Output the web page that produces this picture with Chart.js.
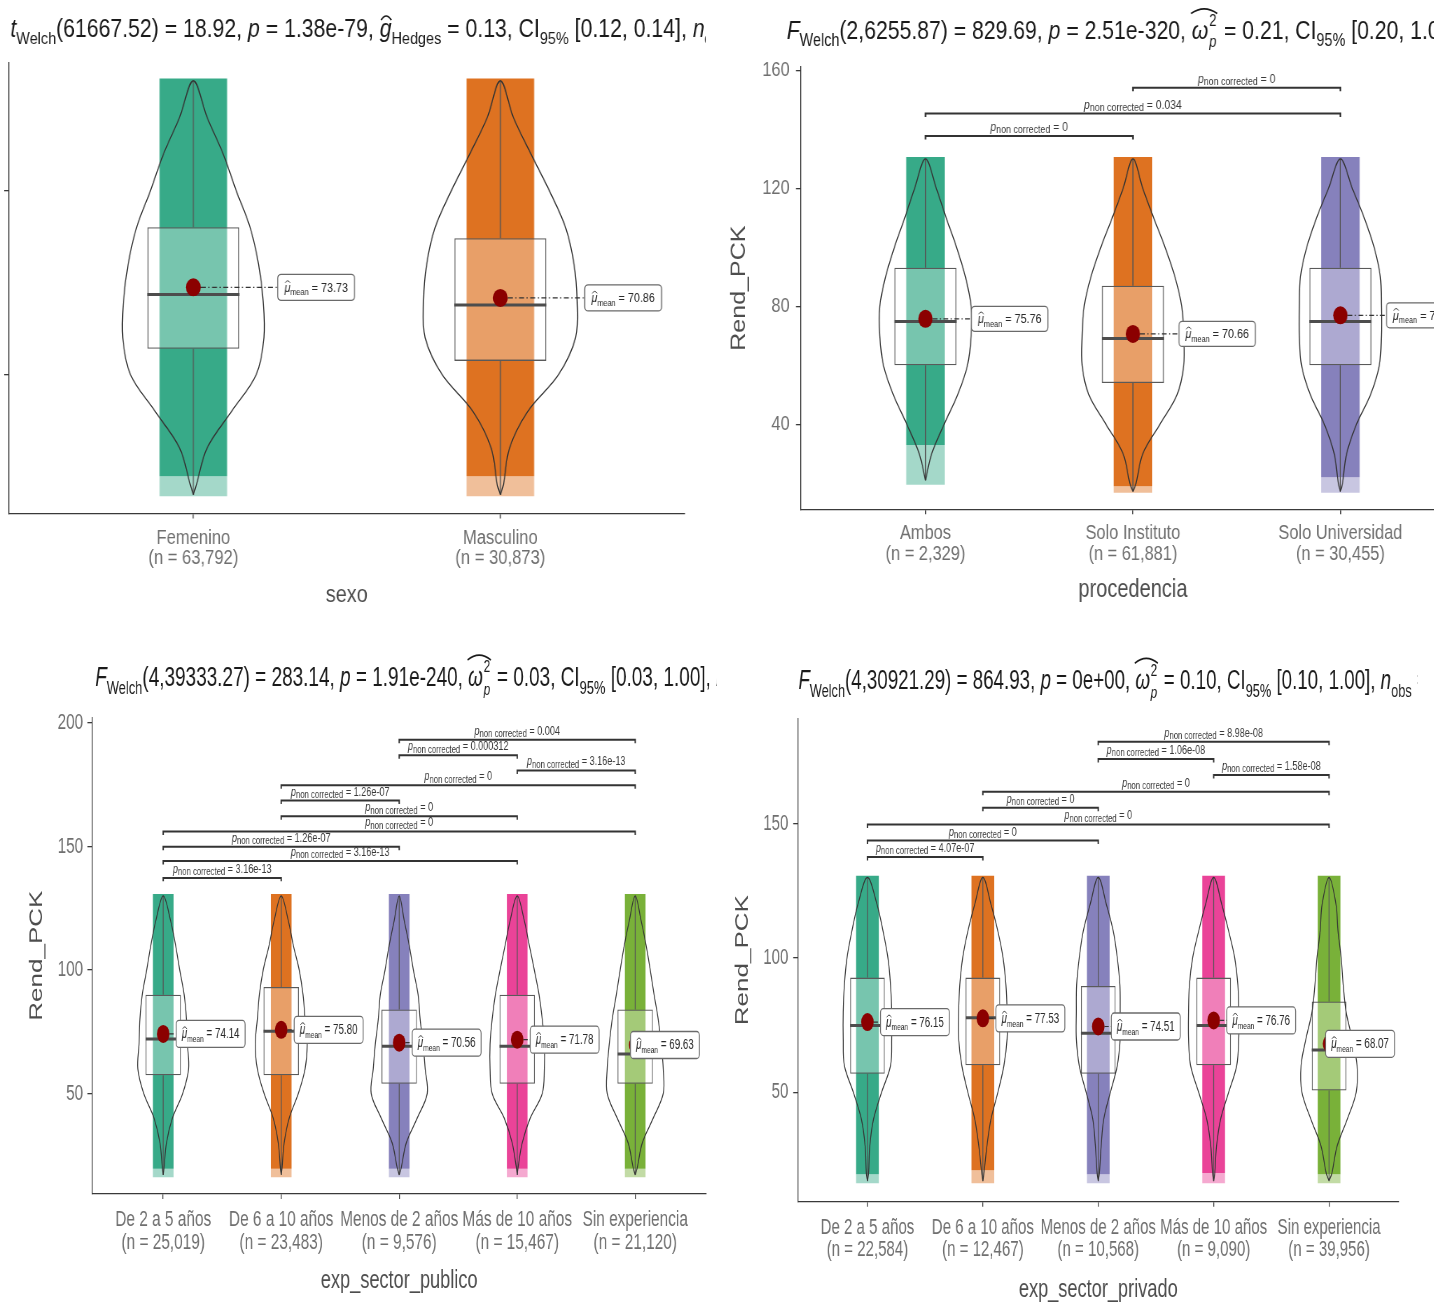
<!DOCTYPE html>
<html lang="es">
<head>
<meta charset="utf-8">
<title>Rend_PCK por grupos</title>
<script src="https://cdn.jsdelivr.net/npm/chart.js@4.4.1/dist/chart.umd.min.js"></script>
<style>
html, body { margin:0; padding:0; background:#ffffff; width:1434px; height:1306px; overflow:hidden; position:relative; }
.panel { position:absolute; overflow:hidden; }
</style>
</head>
<body>
<script>
// ================= DATA =================
const violinLevels = [20, 30, 40, 50, 60, 70, 80, 90, 100, 110, 120];

// --- Panel 1: sexo
const sexoCategories = ['Femenino', 'Masculino'];
const sexoCounts = ['63,792', '30,873'];
const sexoMean = [73.73, 70.86];
const sexoMedian = [71.8, 68.9];
const sexoQ1 = [57.0, 53.7];
const sexoQ3 = [90.1, 87.1];
const sexoMin = [17.2, 17.2];
const sexoMax = [130, 130];
const sexoPointLow = [16.8, 16.8];
const sexoPointDense = [22.3, 22.3];
const sexoPointHigh = [130.6, 130.6];
const sexoViolin = [
  [0.04, 0.18, 0.50, 0.82, 0.92, 0.91, 0.85, 0.74, 0.56, 0.39, 0.18],
  [0.04, 0.12, 0.36, 0.76, 0.98, 1.00, 0.96, 0.85, 0.64, 0.40, 0.17]
];
const sexoYTicks = [50, 100];
const sexoPairs = [];
const sexoPairY = [];
const sexoPairP = [];
const sexoTitle = [{t:'t',it:true},{t:'Welch',sub:true},{t:'(61667.52) = 18.92, '},{t:'p',it:true},{t:' = 1.38e-79, '},{t:'g',it:true,hat:true},{t:'Hedges',sub:true},{t:' = 0.13, CI'},{t:'95%',sub:true},{t:' [0.12, 0.14], '},{t:'n',it:true},{t:'obs',sub:true},{t:' = 94,665'}];

// --- Panel 2: procedencia
const procCategories = ['Ambos', 'Solo Instituto', 'Solo Universidad'];
const procCounts = ['2,329', '61,881', '30,455'];
const procMean = [75.76, 70.66, 76.97];
const procMedian = [74.9, 69.1, 74.9];
const procQ1 = [60.0, 54.0, 60.0];
const procQ3 = [93.1, 87.0, 93.1];
const procMin = [21, 17.2, 17.2];
const procMax = [130, 130, 130];
const procPointLow = [19.5, 16.8, 16.8];
const procPointDense = [33, 19, 22];
const procPointHigh = [130.7, 130.7, 130.7];
const procViolin = [
  [0.04, 0.12, 0.36, 0.62, 0.81, 0.88, 0.88, 0.77, 0.60, 0.40, 0.21],
  [0.06, 0.19, 0.52, 0.85, 0.98, 0.98, 0.94, 0.81, 0.62, 0.40, 0.19],
  [0.04, 0.12, 0.31, 0.58, 0.75, 0.79, 0.79, 0.77, 0.65, 0.46, 0.23]
];
const procYTicks = [40, 80, 120, 160];
const procPairs = [[0, 1], [0, 2], [1, 2]];
const procPairY = [137.8, 145.4, 154.2];
const procPairP = ['0', '0.034', '0'];
const procTitle = [{t:'F',it:true},{t:'Welch',sub:true},{t:'(2,6255.87) = 829.69, '},{t:'p',it:true},{t:' = 2.51e-320, '},{omega:true},{t:' = 0.21, CI'},{t:'95%',sub:true},{t:' [0.20, 1.00], '},{t:'n',it:true},{t:'obs',sub:true},{t:' = 94,665'}];

// --- Panel 3: exp_sector_publico
const pubCategories = ['De 2 a 5 años', 'De 6 a 10 años', 'Menos de 2 años', 'Más de 10 años', 'Sin experiencia'];
const pubCounts = ['25,019', '23,483', '9,576', '15,467', '21,120'];
const pubMean = [74.14, 75.80, 70.56, 71.78, 69.63];
const pubMedian = [72.1, 75.2, 69.1, 69.1, 66.0];
const pubQ1 = [57.4, 57.4, 53.9, 53.9, 53.9];
const pubQ3 = [90.0, 93.1, 84.0, 90.0, 84.0];
const pubMin = [17, 17, 17, 17, 17];
const pubMax = [130, 130, 130, 130, 130];
const pubPointLow = [16.1, 16.1, 16.1, 16.1, 16.1];
const pubPointDense = [19.5, 19.5, 19.5, 19.5, 19.5];
const pubPointHigh = [130.8, 130.8, 130.8, 130.8, 130.8];
const pubViolin = [
  [0.03, 0.11, 0.31, 0.66, 0.86, 0.82, 0.79, 0.71, 0.56, 0.42, 0.25],
  [0.03, 0.10, 0.27, 0.58, 0.81, 0.88, 0.81, 0.74, 0.61, 0.41, 0.24],
  [0.07, 0.24, 0.61, 0.95, 0.88, 0.81, 0.71, 0.64, 0.48, 0.34, 0.17],
  [0.03, 0.17, 0.44, 0.85, 0.92, 0.92, 0.85, 0.74, 0.58, 0.41, 0.24],
  [0.07, 0.24, 0.61, 0.95, 0.95, 0.88, 0.78, 0.64, 0.51, 0.37, 0.20]
];
const pubYTicks = [50, 100, 150, 200];
const pubPairs = [[0, 1], [0, 3], [0, 2], [0, 4], [1, 3], [1, 2], [1, 4], [3, 4], [2, 3], [2, 4]];
const pubPairY = [137.3, 144.1, 149.9, 156.1, 162.3, 168.6, 174.8, 180.8, 187.0, 193.2];
const pubPairP = ['3.16e-13', '3.16e-13', '1.26e-07', '0', '0', '1.26e-07', '0', '3.16e-13', '0.000312', '0.004'];
const pubTitle = [{t:'F',it:true},{t:'Welch',sub:true},{t:'(4,39333.27) = 283.14, '},{t:'p',it:true},{t:' = 1.91e-240, '},{omega:true},{t:' = 0.03, CI'},{t:'95%',sub:true},{t:' [0.03, 1.00], '},{t:'n',it:true},{t:'obs',sub:true},{t:' = 94,665'}];

// --- Panel 4: exp_sector_privado
const privCategories = ['De 2 a 5 años', 'De 6 a 10 años', 'Menos de 2 años', 'Más de 10 años', 'Sin experiencia'];
const privCounts = ['22,584', '12,467', '10,568', '9,090', '39,956'];
const privMean = [76.15, 77.53, 74.51, 76.76, 68.07];
const privMedian = [74.9, 77.8, 72.0, 74.9, 65.8];
const privQ1 = [56.9, 60.1, 56.9, 60.1, 50.7];
const privQ3 = [92.7, 92.7, 89.6, 92.7, 83.8];
const privMin = [17, 17, 17, 17, 17];
const privMax = [130, 130, 130, 130, 130];
const privPointLow = [16.2, 16.2, 16.2, 16.2, 16.2];
const privPointDense = [19.5, 21, 19.5, 20, 19.5];
const privPointHigh = [130.6, 130.6, 130.6, 130.6, 130.6];
const privViolin = [
  [0.04, 0.08, 0.21, 0.49, 0.80, 0.84, 0.84, 0.80, 0.71, 0.54, 0.33],
  [0.04, 0.14, 0.28, 0.52, 0.73, 0.84, 0.84, 0.80, 0.70, 0.52, 0.28],
  [0.04, 0.10, 0.19, 0.42, 0.66, 0.76, 0.76, 0.75, 0.66, 0.52, 0.28],
  [0.04, 0.10, 0.24, 0.52, 0.80, 0.87, 0.87, 0.84, 0.73, 0.52, 0.28],
  [0.10, 0.28, 0.63, 0.94, 0.97, 0.80, 0.59, 0.49, 0.42, 0.31, 0.24]
];
const privYTicks = [50, 100, 150];
const privPairs = [[0, 1], [0, 2], [0, 4], [1, 2], [1, 4], [3, 4], [2, 3], [2, 4]];
const privPairY = [137.6, 143.7, 149.7, 155.9, 161.9, 168.1, 174.1, 180.5];
const privPairP = ['4.07e-07', '0', '0', '0', '0', '1.58e-08', '1.06e-08', '8.98e-08'];
const privTitle = [{t:'F',it:true},{t:'Welch',sub:true},{t:'(4,30921.29) = 864.93, '},{t:'p',it:true},{t:' = 0e+00, '},{omega:true},{t:' = 0.10, CI'},{t:'95%',sub:true},{t:' [0.10, 1.00], '},{t:'n',it:true},{t:'obs',sub:true},{t:' = 94,665'}];

// ================= STYLE / LAYOUT =================
const FONT = "'Liberation Sans', Arial, Helvetica, sans-serif";
const dark2 = ['#1B9E77', '#D95F02', '#7570B3', '#E7298A', '#66A61E'];
Chart.defaults.font.family = FONT;

function rgba(hex, a) {
  const n = parseInt(hex.slice(1), 16);
  return `rgba(${(n >> 16) & 255},${(n >> 8) & 255},${n & 255},${a})`;
}

function rich(ctx, segs, x, y, size, color, draw) {
  let cx = x;
  ctx.textAlign = 'left';
  ctx.textBaseline = 'alphabetic';
  if (color) { ctx.fillStyle = color; ctx.strokeStyle = color; }
  for (const s of segs) {
    if (s.omega) {
      ctx.font = `italic ${size}px ${FONT}`;
      const w0 = ctx.measureText('ω').width;
      const ss = size * 0.62;
      ctx.font = `${ss}px ${FONT}`;
      const w2 = ctx.measureText('2').width;
      ctx.font = `italic ${ss}px ${FONT}`;
      const wp = ctx.measureText('p').width;
      if (draw) {
        ctx.font = `italic ${size}px ${FONT}`;
        ctx.fillText('ω', cx, y);
        ctx.font = `${ss}px ${FONT}`;
        ctx.fillText('2', cx + w0 + 1, y - size * 0.5);
        ctx.font = `italic ${ss}px ${FONT}`;
        ctx.fillText('p', cx + w0 + 1, y + size * 0.32);
        const hx0 = cx - 1, hx1 = cx + w0 + 2 + w2, hy = y - size * 1.08;
        ctx.beginPath();
        ctx.lineWidth = Math.max(1, size / 16);
        ctx.moveTo(hx0, hy + size * 0.12);
        ctx.quadraticCurveTo((hx0 + hx1) / 2, hy - size * 0.24, hx1, hy + size * 0.12);
        ctx.stroke();
      }
      cx += w0 + 2 + Math.max(w2, wp) + 1;
      continue;
    }
    const sz = s.sub ? size * (s.subScale || 0.68) : size;
    ctx.font = `${s.it ? 'italic ' : ''}${sz}px ${FONT}`;
    const w = ctx.measureText(s.t).width;
    const dy = s.sub ? size * (s.subDy !== undefined ? s.subDy : 0.28) : 0;
    if (draw) {
      ctx.fillText(s.t, cx, y + dy);
      if (s.hat) {
        const hx0 = cx + w * 0.12, hx1 = cx + w * 0.98, hy = y - sz * 0.66;
        ctx.beginPath();
        ctx.lineWidth = Math.max(0.8, sz / 15);
        ctx.moveTo(hx0, hy);
        ctx.quadraticCurveTo((hx0 + hx1) / 2, hy - sz * 0.32, hx1, hy);
        ctx.stroke();
      }
    }
    cx += w;
  }
  return cx - x;
}

function violinPath(i, dens, low, high, scale) {
  const pts = [{x: i, y: low}];
  violinLevels.forEach((lv, k) => { if (lv > low && lv < high) pts.push({x: i - dens[k] * scale, y: lv}); });
  pts.push({x: i, y: high});
  for (let k = violinLevels.length - 1; k >= 0; k--) {
    const lv = violinLevels[k];
    if (lv > low && lv < high) pts.push({x: i + dens[k] * scale, y: lv});
  }
  pts.push({x: i, y: low});
  return pts;
}

function buildDatasets(d, cfg) {
  const ds = [];
  const n = d.categories.length;
  const idx = [...Array(n).keys()];
  const barCommon = {type: 'bar', grouped: false, categoryPercentage: 1, borderWidth: 0};
  ds.push(Object.assign({}, barCommon, {
    order: 20, barPercentage: cfg.stripW,
    data: idx.map(i => ({x: i, y: [d.pointLow[i], d.pointDense[i]]})),
    backgroundColor: d.colors.map(c => rgba(c, 0.4))
  }));
  ds.push(Object.assign({}, barCommon, {
    order: 19, barPercentage: cfg.stripW,
    data: idx.map(i => ({x: i, y: [d.pointDense[i], d.pointHigh[i]]})),
    backgroundColor: d.colors.map(c => rgba(c, 0.88))
  }));
  ds.push(Object.assign({}, barCommon, {
    order: 18, barPercentage: cfg.boxW,
    data: idx.map(i => ({x: i, y: [d.q1[i], d.q3[i]]})),
    backgroundColor: 'rgba(255,255,255,0.32)', borderColor: '#5a5a5a', borderWidth: 1.3, borderSkipped: false
  }));
  const lineCommon = {type: 'line', pointRadius: 0, pointHoverRadius: 0, fill: false, spanGaps: false};
  const wh = [];
  idx.forEach(i => { wh.push({x: i, y: d.min[i]}, {x: i, y: d.q1[i]}, {x: i, y: null}, {x: i, y: d.q3[i]}, {x: i, y: d.max[i]}, {x: i, y: null}); });
  ds.push(Object.assign({}, lineCommon, {order: 17, data: wh, borderColor: '#555555', borderWidth: 1.3, tension: 0}));
  idx.forEach(i => {
    ds.push(Object.assign({}, lineCommon, {
      order: 16, data: violinPath(i, d.violin[i], d.min[i], d.max[i], cfg.violinScale),
      borderColor: '#333333', borderWidth: 1.3, tension: 0.35
    }));
  });
  const med = [];
  idx.forEach(i => { med.push({x: i - cfg.boxW / 2, y: d.median[i]}, {x: i + cfg.boxW / 2, y: d.median[i]}, {x: i, y: null}); });
  ds.push(Object.assign({}, lineCommon, {order: 15, data: med, borderColor: '#4d4d4d', borderWidth: 3, tension: 0}));
  ds.push({type: 'scatter', order: 14, data: idx.map(i => ({x: i, y: d.mean[i]})),
    pointRadius: cfg.dotR, pointHoverRadius: cfg.dotR, backgroundColor: '#8B0000', borderColor: '#8B0000', borderWidth: 0});
  if (d.pairs.length) {
    const br = [];
    const tk = cfg.bracketTick;
    d.pairs.forEach((p, k) => {
      const h = d.pairY[k];
      br.push({x: p[0], y: h - tk}, {x: p[0], y: h}, {x: p[1], y: h}, {x: p[1], y: h - tk}, {x: p[1], y: null});
    });
    ds.push(Object.assign({}, lineCommon, {order: 13, data: br, borderColor: '#333333', borderWidth: 2, tension: 0}));
  }
  return ds;
}

function makePanel(d, cfg) {
  const [bx0, by0, bx1, by1] = cfg.box;
  const sx = cfg.sx;
  const wrap = document.createElement('div');
  wrap.className = 'panel';
  Object.assign(wrap.style, {left: bx0 + 'px', top: by0 + 'px', width: (bx1 - bx0) + 'px', height: (by1 - by0) + 'px'});
  const inner = document.createElement('div');
  Object.assign(inner.style, {position: 'absolute', left: '0px', top: '0px', width: ((bx1 - bx0) / sx) + 'px',
    height: (by1 - by0) + 'px', transform: `scaleX(${sx})`, transformOrigin: '0 0'});
  wrap.appendChild(inner);
  document.body.appendChild(wrap);

  const toX = xp => (xp - bx0) / sx;
  const YAXW = 150, XAXH = 100, PADL = 20, PADR = 40;
  const L = toX(cfg.area[0]), R = toX(cfg.area[2]);
  const T = cfg.area[1] - by0, B = cfg.area[3] - by0;
  const canX = L - YAXW - PADL;
  const canW = Math.ceil(R + PADR - canX);
  const canH = by1 - by0;
  const canvas = document.createElement('canvas');
  canvas.width = canW; canvas.height = canH;
  Object.assign(canvas.style, {position: 'absolute', left: canX + 'px', top: '0px', width: canW + 'px', height: canH + 'px'});
  inner.appendChild(canvas);

  const Lc = L - canX, Rc = R - canX;
  const tlY = 5 / sx, tlX = 5;
  const yLabPad = (Lc - tlY) - (toX(cfg.yLabelRight) - canX);
  const yTitlePad = (toX(cfg.yTitleX) - canX) - PADL - cfg.yTitleSize / 2;
  const xLabPad = cfg.tickY - cfg.area[3] - tlX - cfg.tickLH / 2;
  const xTitlePad = (B + XAXH) - (cfg.xTitleY - by0) - cfg.xTitleSize / 2;
  const titleXc = toX(cfg.titleX) - canX;
  const titleYc = cfg.titleBase - by0;
  const n = d.categories.length;

  const extras = {
    id: 'extras',
    afterDraw(chart) {
      const ctx = chart.ctx, xs = chart.scales.x, ys = chart.scales.y;
      ctx.save();
      rich(ctx, d.title, titleXc, titleYc, cfg.titleSize, '#1a1a1a', true);
      d.pairs.forEach((p, k) => {
        const cx = xs.getPixelForValue((p[0] + p[1]) / 2);
        const y = ys.getPixelForValue(d.pairY[k]) - 5;
        const segs = [{t: 'p', it: true}, {t: 'non corrected', sub: true, subScale: 0.85, subDy: 0.18}, {t: ' = ' + d.pairP[k]}];
        const w = rich(ctx, segs, 0, 0, cfg.bracketSize, null, false);
        rich(ctx, segs, cx - w / 2, y, cfg.bracketSize, '#3a3a3a', true);
      });
      d.mean.forEach((m, i) => {
        const px = xs.getPixelForValue(i), py = ys.getPixelForValue(m);
        const bx = xs.getPixelForValue(i + cfg.labelOffset[i]);
        const segs = [{t: 'μ', it: true, hat: true}, {t: 'mean', sub: true}, {t: ' = ' + m.toFixed(2)}];
        const tw = rich(ctx, segs, 0, 0, cfg.labelSize, null, false);
        const bw = tw + 2 * cfg.labelPad, bh = cfg.labelH;
        if (bx > px + cfg.dotR) {
          ctx.save();
          ctx.strokeStyle = '#333333'; ctx.lineWidth = 1.2;
          ctx.setLineDash([6, 3, 1.5, 3]);
          ctx.beginPath(); ctx.moveTo(px + cfg.dotR, py); ctx.lineTo(bx, py); ctx.stroke();
          ctx.restore();
        }
        ctx.beginPath();
        ctx.roundRect(bx, py - bh / 2, bw, bh, 4);
        ctx.fillStyle = '#ffffff'; ctx.fill();
        ctx.strokeStyle = '#6a6a6a'; ctx.lineWidth = 1.3; ctx.stroke();
        rich(ctx, segs, bx + cfg.labelPad, py + cfg.labelSize * 0.32, cfg.labelSize, '#2a2a2a', true);
      });
      ctx.restore();
    }
  };

  new Chart(canvas, {
    type: 'scatter',
    data: {datasets: buildDatasets(d, cfg)},
    options: {
      responsive: false, animation: false, devicePixelRatio: 1, events: [],
      layout: {padding: {left: PADL, right: canW - Rc, top: T, bottom: canH - B - XAXH}},
      plugins: {legend: {display: false}, tooltip: {enabled: false}},
      scales: {
        x: {
          type: 'linear', position: 'bottom', min: -0.6, max: n - 0.4, offset: false,
          afterFit: s => { s.height = XAXH; },
          afterBuildTicks: s => { s.ticks = d.categories.map((c, i) => ({value: i})); },
          grid: {display: true, offset: false, drawOnChartArea: false, drawTicks: true, tickLength: tlX, color: '#3a3a3a', lineWidth: 1.3},
          border: {display: true, color: '#3a3a3a', width: 1.3},
          ticks: {
            autoSkip: false, maxRotation: 0, minRotation: 0, padding: xLabPad, color: '#6f6f6f',
            font: {size: cfg.tickSize, lineHeight: cfg.tickLH / cfg.tickSize},
            callback: v => { const i = Math.round(v); return [d.categories[i], '(n = ' + d.counts[i] + ')']; }
          },
          title: {display: true, text: d.xTitle, color: '#4d4d4d', font: {size: cfg.xTitleSize, lineHeight: 1}, padding: {top: 0, bottom: xTitlePad}}
        },
        y: {
          type: 'linear', position: 'left', min: cfg.yMin, max: cfg.yMax,
          afterFit: s => { s.width = YAXW; },
          afterBuildTicks: s => { s.ticks = d.yTicks.map(v => ({value: v})); },
          grid: {display: true, drawOnChartArea: false, drawTicks: true, tickLength: tlY, color: '#3a3a3a', lineWidth: 1.3},
          border: {display: true, color: '#3a3a3a', width: 1.3},
          ticks: {autoSkip: false, padding: yLabPad, color: '#6f6f6f', font: {size: cfg.ySize, lineHeight: 1}, callback: v => String(v)},
          title: {display: true, text: 'Rend_PCK', color: '#4d4d4d', font: {size: cfg.yTitleSize, lineHeight: 1}, padding: {top: yTitlePad, bottom: 0}}
        }
      }
    },
    plugins: [extras]
  });
}

const panelData = [
  {categories: sexoCategories, counts: sexoCounts, mean: sexoMean, median: sexoMedian, q1: sexoQ1, q3: sexoQ3,
   min: sexoMin, max: sexoMax, pointLow: sexoPointLow, pointDense: sexoPointDense, pointHigh: sexoPointHigh,
   violin: sexoViolin, yTicks: sexoYTicks, pairs: sexoPairs, pairY: sexoPairY, pairP: sexoPairP,
   title: sexoTitle, xTitle: 'sexo', colors: [dark2[0], dark2[1]]},
  {categories: procCategories, counts: procCounts, mean: procMean, median: procMedian, q1: procQ1, q3: procQ3,
   min: procMin, max: procMax, pointLow: procPointLow, pointDense: procPointDense, pointHigh: procPointHigh,
   violin: procViolin, yTicks: procYTicks, pairs: procPairs, pairY: procPairY, pairP: procPairP,
   title: procTitle, xTitle: 'procedencia', colors: [dark2[0], dark2[1], dark2[2]]},
  {categories: pubCategories, counts: pubCounts, mean: pubMean, median: pubMedian, q1: pubQ1, q3: pubQ3,
   min: pubMin, max: pubMax, pointLow: pubPointLow, pointDense: pubPointDense, pointHigh: pubPointHigh,
   violin: pubViolin, yTicks: pubYTicks, pairs: pubPairs, pairY: pubPairY, pairP: pubPairP,
   title: pubTitle, xTitle: 'exp_sector_publico', colors: dark2},
  {categories: privCategories, counts: privCounts, mean: privMean, median: privMedian, q1: privQ1, q3: privQ3,
   min: privMin, max: privMax, pointLow: privPointLow, pointDense: privPointDense, pointHigh: privPointHigh,
   violin: privViolin, yTicks: privYTicks, pairs: privPairs, pairY: privPairY, pairP: privPairP,
   title: privTitle, xTitle: 'exp_sector_privado', colors: dark2}
];

const panelLayout = [
  {box: [0, 0, 706, 640], sx: 0.83, area: [8.8, 62, 684.2, 513.6], yMin: 12.1, yMax: 134.9,
   titleX: 10, titleBase: 37, titleSize: 25.6, tickSize: 20, tickLH: 20.3, tickY: 538, ySize: 20,
   yLabelRight: -40, yTitleX: -90, yTitleSize: 24, xTitleSize: 24, xTitleY: 595,
   stripW: 0.22, boxW: 0.3, violinScale: 0.25, dotR: 9, labelOffset: [0.275, 0.275],
   labelSize: 13, labelH: 26, labelPad: 8, bracketSize: 13, bracketTick: 1.0},
  {box: [717, 0, 1434, 640], sx: 0.80, area: [801.3, 67, 1465.2, 509.3], yMin: 11.15, yMax: 161.2,
   titleX: 787, titleBase: 39, titleSize: 26.5, tickSize: 20.5, tickLH: 21.4, tickY: 533, ySize: 20.5,
   yLabelRight: 790, yTitleX: 740, yTitleSize: 25, xTitleSize: 25, xTitleY: 590,
   stripW: 0.186, boxW: 0.3, violinScale: 0.25, dotR: 9, labelOffset: [0.222, 0.222, 0.222],
   labelSize: 13.5, labelH: 25, labelPad: 8, bracketSize: 13, bracketTick: 1.2},
  {box: [0, 640, 717, 1306], sx: 0.70, area: [92.2, 717.4, 705.8, 1194], yMin: 9.3, yMax: 202.3,
   titleX: 95, titleBase: 686, titleSize: 27.1, tickSize: 22, tickLH: 23.2, tickY: 1220, ySize: 22,
   yLabelRight: 83, yTitleX: 37, yTitleSize: 26, xTitleSize: 26, xTitleY: 1281,
   stripW: 0.175, boxW: 0.3, violinScale: 0.25, dotR: 9, labelOffset: [0.11, 0.11, 0.11, 0.11, -0.04],
   labelSize: 14, labelH: 27, labelPad: 8, bracketSize: 13, bracketTick: 1.4},
  {box: [717, 640, 1418, 1306], sx: 0.70, area: [797.9, 718.6, 1398, 1201.7], yMin: 9.3, yMax: 189.1,
   titleX: 798, titleBase: 689, titleSize: 26.8, tickSize: 21.5, tickLH: 22.1, tickY: 1227.6, ySize: 21.5,
   yLabelRight: 788, yTitleX: 742.8, yTitleSize: 26, xTitleSize: 26, xTitleY: 1289.5,
   stripW: 0.197, boxW: 0.3, violinScale: 0.25, dotR: 9, labelOffset: [0.113, 0.113, 0.113, 0.113, -0.03],
   labelSize: 14, labelH: 27, labelPad: 8, bracketSize: 13, bracketTick: 1.3}
];

panelData.forEach((d, k) => makePanel(d, panelLayout[k]));
</script>
</body>
</html>
